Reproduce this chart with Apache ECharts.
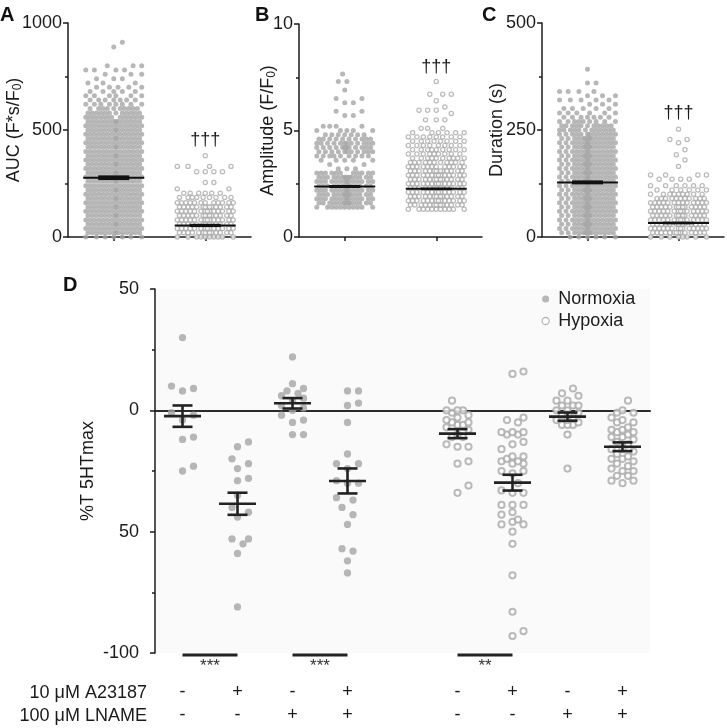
<!DOCTYPE html>
<html><head><meta charset="utf-8">
<script src="https://cdn.jsdelivr.net/npm/echarts/dist/echarts.min.js"></script>
<style>html,body{margin:0;padding:0;background:#fff}#c{width:727px;height:728px}</style>
</head><body><div id="c"></div>
<script>
// ---------------- DATA ----------------
// Panels A–C: dot rows, [value, number of dots in that row]
const aucNormoxiaRows = [[0,7],[20,14],[40,14],[60,14],[80,14],[100,14],[120,14],[140,14],[160,14],[180,14],[200,14],[220,14],[240,14],[260,14],[280,14],[300,14],[320,14],[340,14],[360,14],[380,14],[400,14],[420,14],[440,14],[460,14],[480,14],[500,14],[520,14],[540,14],[560,13],[580,12],[600,10],[620,8],[640,7],[660,6],[680,5],[700,5],[720,3],[740,3],[760,3],[780,4],[800,3],[888,1],[910,1]];
const aucHypoxiaRows = [[0,10],[20,14],[40,14],[60,14],[80,14],[100,14],[120,14],[140,14],[160,12],[185,9],[205,6],[225,2],[255,2],[305,4],[330,4],[380,1]];
const aucMean = [277, 54];
const aucSem = [6.3, 3];

const ampNormoxiaRows = [[1.4,11],[1.6,14],[1.8,14],[2.0,14],[2.2,14],[2.4,14],[2.6,14],[2.8,14],[3.0,11],[3.2,3],[3.4,2],[3.6,5],[3.8,9],[4.0,11],[4.2,12],[4.4,12],[4.6,10],[4.8,7],[5.0,5],[5.2,4],[5.7,2],[5.9,2],[6.3,2],[6.5,2],[6.9,1],[7.3,2],[7.65,1]];
const ampHypoxiaRows = [[1.3,11],[1.5,14],[1.7,14],[1.9,14],[2.1,14],[2.3,14],[2.5,14],[2.7,14],[2.9,14],[3.1,14],[3.3,12],[3.5,11],[3.7,10],[3.9,9],[4.1,9],[4.3,8],[4.5,8],[4.7,8],[4.9,6],[5.1,3],[5.5,3],[5.8,1],[5.95,3],[6.1,1],[6.4,1],[6.7,3],[7.3,1]];
const ampMean = [2.37, 2.26];
const ampSem = [0.023, 0.012];

const durNormoxiaRows = [[0,6],[10,14],[20,14],[30,14],[40,14],[50,14],[60,14],[70,14],[80,14],[90,14],[100,14],[110,14],[120,14],[130,14],[140,14],[150,14],[160,14],[170,14],[180,14],[190,14],[200,14],[210,14],[220,14],[230,14],[240,13],[250,12],[260,11],[270,9],[280,7],[290,6],[300,5],[310,3],[320,5],[330,3],[340,4],[360,2],[392,1]];
const durHypoxiaRows = [[0,8],[10,14],[20,14],[30,14],[40,14],[50,14],[60,14],[70,14],[80,13],[90,11],[100,9],[110,6],[120,6],[135,4],[145,4],[165,1],[180,1],[192,1],[204,1],[220,1],[228,2],[252,1]];
const durMean = [127.6, 32.7];
const durSem = [2.3, 0.8];

const daggerText = '†††';
const daggerY = [455, 7.98, 290];           // A, B, C (value units, above hypoxia column)

// Panel D: individual responses (%T 5HTmax)
const dNormoxia = [
  [30, 10, 9, 8, -1, -2, -4, -11, -12, -23, -25],
  [-13, -15, -20, -22, -24, -28, -29, -35, -40, -42, -44, -53, -53, -55, -59, -81],
  [22, 11, 9, 8, 7, 6, 5, 4, 2, 1, 0, -2, -4, -5, -10, -10],
  [8, 8, 3, 2, -5, -18, -22, -22, -24, -29, -30, -30, -36, -37, -40, -43, -47, -57, -58, -62, -67]
];
const dHypoxia = [
  [4, 0, 0, 0, -1, -2, -3, -4, -5, -5, -6, -6, -7, -8, -10, -11, -11, -14, -15, -15, -21, -22, -31, -34],
  [15, 16, -3, -4, -5, -9, -9, -9, -10, -10, -13, -14, -16, -19, -19, -20, -21, -21, -22, -22, -25, -25, -26, -30, -33, -34, -34, -39, -39, -39, -42, -43, -45, -46, -47, -47, -50, -55, -68, -83, -91, -93],
  [9, 7, 6, 4, 4, 2, 2, 2, 0, 0, -1, -2, -3, -4, -4, -5, -6, -6, -6, -10, -24],
  [4, 0, -1, -1, -3, -4, -5, -5, -7, -8, -8, -9, -9, -10, -11, -11, -12, -13, -14, -16, -16, -17, -18, -19, -20, -20, -21, -22, -23, -24, -25, -25, -27, -27, -29, -29, -30]
];
const dNormoxiaMean = [-2.4, -38.5, 2.9, -29.1];
const dNormoxiaSem = [4.4, 4.55, 2.15, 5.15];
const dHypoxiaMean = [-9.6, -29.8, -2.6, -15];
const dHypoxiaSem = [1.85, 3.25, 1.7, 1.8];
const dSlotsNormoxia = [1, 2, 3, 4];
const dSlotsHypoxia = [6, 7, 8, 9];
const dA23187 = ['-', '+', '-', '+', '', '-', '+', '-', '+'];
const dLNAME = ['-', '-', '+', '+', '', '-', '-', '+', '+'];
const dYTicks = [-100, -50, 0, 50];
const dYTickLabels = ['-100', '50', '0', '50'];
const sigBars = [[1, 2, '***'], [3, 4, '***'], [6, 7, '**']];
const rowTitles = ['10 μM A23187', '100 μM LNAME'];

// ---------------- STYLE / LAYOUT ----------------
const FONT = '"Liberation Sans", Arial, Helvetica, sans-serif';
const TXT = '#1b1b1b', AX = '#1b1b1b';
const GRAY = '#a5a5a5', RING = '#a9a9a9';
const G = {
  A: {left: 68, top: 23, width: 183, height: 214},
  B: {left: 299, top: 24, width: 183, height: 213},
  C: {left: 542, top: 23, width: 182, height: 214},
  D: {left: 155, top: 289, width: 495, height: 364}
};

function expandRows(rows) {
  const out = [];
  rows.forEach(([v, n]) => { for (let i = 0; i < n; i++) out.push(v); });
  return out.sort((a, b) => a - b);
}
// bee-swarm layout: horizontal pixel offset per value (values sorted ascending)
function swarm(vals, pxPerUnit, cfg) {
  const cands = [0];
  for (let k = 1; k * cfg.step <= cfg.halfW + 1e-6; k++) cands.push(k * cfg.step, -k * cfg.step);
  const placed = [], out = [];
  vals.forEach(v => {
    const y = v * pxPerUnit;
    const nb = [];
    for (let i = placed.length - 1; i >= 0; i--) {
      if (y - placed[i].y >= cfg.clear) break;
      nb.push(placed[i]);
    }
    let best = 0, bestScore = -1;
    for (const cx of cands) {
      let md = Infinity;
      for (const p of nb) { const d = Math.hypot(cx - p.x, y - p.y); if (d < md) md = d; }
      if (md >= cfg.clear) { best = cx; break; }
      if (md > bestScore + 1e-9) { bestScore = md; best = cx; }
    }
    placed.push({x: best, y}); out.push(best);
  });
  return out;
}
function errRender(halfMean, halfCap, lw, color) {
  return function (params, api) {
    const x = api.value(0), m = api.value(1), s = api.value(2);
    const pm = api.coord([x, m]), pt = api.coord([x, m + s]), pb = api.coord([x, m - s]);
    const st = {stroke: color, lineWidth: lw, fill: null};
    return {type: 'group', children: [
      {type: 'line', shape: {x1: pm[0] - halfMean, y1: pm[1], x2: pm[0] + halfMean, y2: pm[1]}, style: st},
      {type: 'line', shape: {x1: pt[0], y1: pt[1], x2: pb[0], y2: pb[1]}, style: st},
      {type: 'line', shape: {x1: pt[0] - halfCap, y1: pt[1], x2: pt[0] + halfCap, y2: pt[1]}, style: st},
      {type: 'line', shape: {x1: pb[0] - halfCap, y1: pb[1], x2: pb[0] + halfCap, y2: pb[1]}, style: st}
    ]};
  };
}
const axLine = {color: AX, width: 1.5};
const nameStyle = {fontSize: 18, fontFamily: FONT, color: TXT,
  rich: {sub: {fontSize: 12, fontFamily: FONT, color: TXT, padding: [8, 0, 0, 0]}}};

const grids = [], xAxes = [], yAxes = [], series = [];
const abc = [
  {g: G.A, min: 0, max: 1000, interval: 500, rows: [aucNormoxiaRows, aucHypoxiaRows], mean: aucMean, sem: aucSem, name: 'AUC (F*s/F{sub|0})', nameGap: 44},
  {g: G.B, min: 0, max: 10, interval: 5, rows: [ampNormoxiaRows, ampHypoxiaRows], mean: ampMean, sem: ampSem, name: 'Amplitude (F/F{sub|0})', nameGap: 21},
  {g: G.C, min: 0, max: 500, interval: 250, rows: [durNormoxiaRows, durHypoxiaRows], mean: durMean, sem: durSem, name: 'Duration (s)', nameGap: 36}
];
const groupX = [1, 3];
abc.forEach((p, pi) => {
  grids.push(Object.assign({containLabel: false}, p.g));
  xAxes.push({gridIndex: pi, type: 'category', data: ['', ''], boundaryGap: true,
    axisLine: {show: true, onZero: false, lineStyle: axLine},
    axisTick: {show: true, alignWithLabel: true, length: 4, lineStyle: axLine},
    axisLabel: {show: true, formatter: () => ''}, splitLine: {show: false}});
  xAxes.push({gridIndex: pi, type: 'value', min: 0, max: 4, show: false});
  yAxes.push({gridIndex: pi, type: 'value', min: p.min, max: p.max, interval: p.interval,
    axisLine: {show: true, onZero: false, lineStyle: axLine},
    axisTick: {show: true, length: 5, lineStyle: axLine},
    minorTick: {show: true, splitNumber: 2, length: 3, lineStyle: axLine},
    splitLine: {show: false}, minorSplitLine: {show: false},
    axisLabel: {fontSize: 18, fontFamily: FONT, color: TXT, margin: 6, formatter: v => String(v)},
    name: p.name, nameLocation: 'middle', nameRotate: 90, nameGap: p.nameGap, nameMoveOverlap: false,
    nameTextStyle: nameStyle});
  const pyu = p.g.height / (p.max - p.min), pxu = p.g.width / 4;
  const cfg = {clear: 8.6, step: 2.15, halfW: 28};
  p.rows.forEach((rows, gi) => {
    const vals = expandRows(rows);
    const offs = swarm(vals, pyu, cfg);
    const hyp = gi === 1;
    series.push({type: 'scatter', name: (hyp ? 'hyp' : 'norm') + pi, xAxisIndex: pi * 2 + 1, yAxisIndex: pi,
      data: vals.map((v, i) => [groupX[gi] + offs[i] / pxu, v]), clip: false, silent: true,
      symbol: 'circle', symbolSize: hyp ? 4.2 : 5.0,
      itemStyle: hyp ? {color: '#fff', borderColor: RING, borderWidth: 1.25} : {color: GRAY}, z: 2});
  });
  series.push({type: 'custom', xAxisIndex: pi * 2 + 1, yAxisIndex: pi, clip: false, silent: true, z: 5,
    encode: {x: 0, y: 1},
    data: groupX.map((x, i) => [x, p.mean[i], p.sem[i]]),
    renderItem: errRender(30.5, 15.5, 2, '#111')});
  series.push({type: 'custom', xAxisIndex: pi * 2 + 1, yAxisIndex: pi, clip: false, silent: true, z: 5,
    encode: {x: 0, y: 1}, data: [[3, daggerY[pi]]],
    renderItem: (params, api) => {
      const c = api.coord([api.value(0), api.value(1)]);
      return {type: 'text', x: c[0], y: c[1], style: {text: daggerText, font: '18px ' + FONT, fill: TXT, align: 'center', verticalAlign: 'middle'}};
    }});
});

// Panel D
grids.push(Object.assign({show: true, backgroundColor: '#fafafa', borderWidth: 0}, G.D));
xAxes.push({gridIndex: 3, type: 'value', min: 0.5, max: 9.5,
  axisLine: {show: true, onZero: true, lineStyle: {color: '#2a2a2a', width: 2}},
  axisTick: {show: false}, axisLabel: {show: false}, splitLine: {show: false}});
xAxes.push({gridIndex: 3, type: 'category', position: 'bottom', boundaryGap: true,
  data: dA23187.map((a, i) => a + '\n' + dLNAME[i]),
  axisLine: {show: false, onZero: false}, axisTick: {show: false}, splitLine: {show: false},
  axisLabel: {interval: 0, fontSize: 18, lineHeight: 23, margin: 28, color: TXT, fontFamily: FONT}});
yAxes.push({gridIndex: 3, type: 'value', min: -100, max: 50, interval: 50,
  axisLine: {show: true, onZero: false, lineStyle: axLine},
  axisTick: {show: true, length: 5, lineStyle: axLine},
  minorTick: {show: true, splitNumber: 2, length: 3, lineStyle: axLine},
  splitLine: {show: false}, minorSplitLine: {show: false},
  axisLabel: {fontSize: 18, fontFamily: FONT, color: TXT, margin: 16,
    formatter: v => dYTickLabels[dYTicks.indexOf(v)]},
  name: '%T 5HTmax', nameLocation: 'middle', nameRotate: 90, nameGap: 58, nameMoveOverlap: false,
  nameTextStyle: nameStyle});
const dPyu = G.D.height / 150, dPxu = G.D.width / 9;
const dCfg = {clear: 10.5, step: 5.5, halfW: 11};
function dSeries(name, groups, slots, hyp) {
  const data = [];
  groups.forEach((g, gi) => {
    const vals = g.slice().sort((a, b) => a - b);
    const offs = swarm(vals, dPyu, dCfg);
    vals.forEach((v, i) => data.push([slots[gi] + offs[i] / dPxu, v]));
  });
  return {type: 'scatter', name, xAxisIndex: 6, yAxisIndex: 3, data, clip: false, silent: true,
    symbol: 'circle', symbolSize: hyp ? 6.2 : 7.3,
    itemStyle: hyp ? {color: '#fff', borderColor: RING, borderWidth: 2} : {color: GRAY}, z: 2};
}
series.push(dSeries('Normoxia', dNormoxia, dSlotsNormoxia, false));
series.push(dSeries('Hypoxia', dHypoxia, dSlotsHypoxia, true));
series.push({type: 'custom', xAxisIndex: 6, yAxisIndex: 3, clip: false, silent: true, z: 5, encode: {x: 0, y: 1},
  data: dSlotsNormoxia.map((x, i) => [x, dNormoxiaMean[i], dNormoxiaSem[i]])
    .concat(dSlotsHypoxia.map((x, i) => [x, dHypoxiaMean[i], dHypoxiaSem[i]])),
  renderItem: errRender(18.5, 10, 2.6, '#222')});
series.push({type: 'custom', xAxisIndex: 6, yAxisIndex: 3, clip: false, silent: true, z: 5, encode: {x: 0, y: 1},
  data: sigBars.map(b => [b[0], -100.8, b[1]]),
  renderItem: (params, api) => {
    const yv = api.value(1);
    const p1 = api.coord([api.value(0), yv]), p2 = api.coord([api.value(2), yv]);
    return {type: 'group', children: [
      {type: 'line', shape: {x1: p1[0], y1: p1[1], x2: p2[0], y2: p2[1]}, style: {stroke: '#222', lineWidth: 3}},
      {type: 'text', x: (p1[0] + p2[0]) / 2, y: p1[1] + 2.5,
        style: {text: sigBars[params.dataIndex][2], font: '17px ' + FONT, fill: '#333', align: 'center', verticalAlign: 'top'}}
    ]};
  }});

const letter = (t, x, y) => ({type: 'text', x, y, style: {text: t, font: 'bold 20px ' + FONT, fill: '#111', align: 'left', verticalAlign: 'middle'}});
const option = {
  animation: false,
  backgroundColor: '#fff',
  grid: grids, xAxis: xAxes, yAxis: yAxes, series,
  legend: {show: true, selectedMode: false, orient: 'vertical', left: 536.5, top: 284,
    data: [{name: 'Normoxia'}, {name: 'Hypoxia', itemStyle: {borderWidth: 1.3}}],
    itemWidth: 7, itemHeight: 7, itemGap: 2,
    textStyle: {fontSize: 18, fontFamily: FONT, color: TXT, lineHeight: 20, padding: [0, 0, 0, 4]}},
  graphic: [
    letter('A', 0, 15), letter('B', 255, 15), letter('C', 482, 15), letter('D', 63, 285.5),
    {type: 'text', x: 147, y: 693, style: {text: rowTitles[0], font: '18px ' + FONT, fill: TXT, align: 'right', verticalAlign: 'middle'}},
    {type: 'text', x: 147, y: 716, style: {text: rowTitles[1], font: '18px ' + FONT, fill: TXT, align: 'right', verticalAlign: 'middle'}}
  ]
};
const chart = echarts.init(document.getElementById('c'));
chart.setOption(option);
</script></body></html>
